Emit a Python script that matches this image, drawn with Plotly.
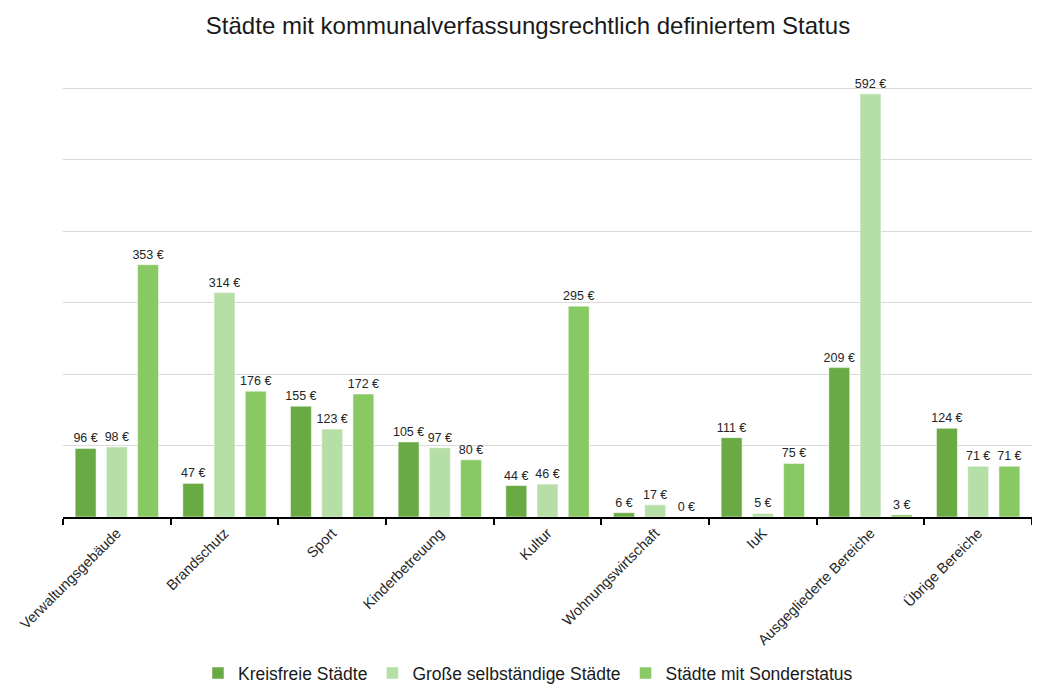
import plotly.graph_objects as go

categories = [
    "Verwaltungsgebäude", "Brandschutz", "Sport", "Kinderbetreuung", "Kultur",
    "Wohnungswirtschaft", "IuK", "Ausgegliederte Bereiche", "Übrige Bereiche",
]
kreisfreie = [96, 47, 155, 105, 44, 6, 111, 209, 124]
grosse = [98, 314, 123, 97, 46, 17, 5, 592, 71]
sonderstatus = [353, 176, 172, 80, 295, 0, 75, 3, 71]

series = [
    ("Kreisfreie Städte", kreisfreie, "#6aaa45"),
    ("Große selbständige Städte", grosse, "#b6dfa7"),
    ("Städte mit Sonderstatus", sonderstatus, "#89c964"),
]

fig = go.Figure()
for name, values, color in series:
    fig.add_trace(go.Bar(
        x=categories, y=values, name=name, marker_color=color,
        texttemplate="%{y} €", textposition="outside", cliponaxis=False,
        constraintext="none",
        textfont=dict(size=12.5, color="#262626"),
    ))

fig.update_layout(
    title=dict(text="Städte mit kommunalverfassungsrechtlich definiertem Status",
               x=0.5, xanchor="center", y=0.987, yanchor="top",
               font=dict(size=24, color="#1a1a1a")),
    font=dict(family="Liberation Sans, Arial", color="#262626"),
    template="plotly_white",
    plot_bgcolor="white",
    barmode="group",
    bargap=0.13,
    bargroupgap=0.33,
    width=1040, height=690,
    margin=dict(t=78, r=16, l=55, b=181),
    legend=dict(orientation="h", x=0.5, xanchor="center", xref="container",
                y=0.036, yanchor="middle", yref="container",
                font=dict(size=17.5, color="#1a1a1a"), itemwidth=30),
)
fig.update_xaxes(
    tickangle=-45, tickson="boundaries", ticks="outside", ticklen=6,
    tickcolor="black", tickwidth=2, showline=True, linecolor="black", linewidth=2,
    tickfont=dict(size=14.5, color="#262626"), showgrid=False, automargin=False,
)
fig.update_yaxes(
    range=[0, 603], tickvals=[100, 200, 300, 400, 500, 600], showticklabels=False,
    gridcolor="#d9d9d9", zeroline=False, automargin=False,
)

fig.write_html("out.html")
